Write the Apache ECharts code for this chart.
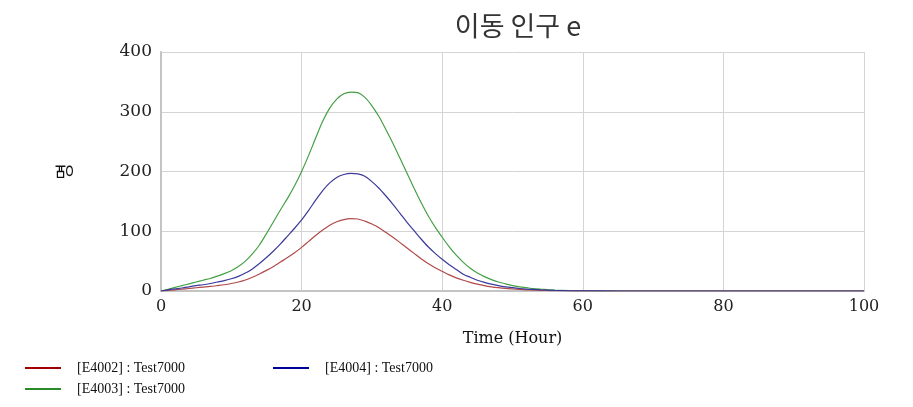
<!DOCTYPE html>
<html>
<head>
<meta charset="utf-8">
<script src="https://cdn.jsdelivr.net/npm/echarts@6/dist/echarts.min.js"></script>
<style>html,body{margin:0;padding:0;background:#fff}#c{width:913px;height:407px}</style>
</head>
<body>
<div id="c"></div>
<script>
var times = [0,1,2,3,4,5,6,7,8,9,10,11,12,13,14,15,16,17,18,19,20,21,22,23,24,25,26,27,28,29,30,31,32,33,34,35,36,37,38,39,40,41,42,43,44,45,46,47,48,49,50,51,52,53,54,55,56,58,60,65,70,80,90,100];
var e4002 = [0,1,2,3,4.2,5.4,6.5,7.6,9,10.5,12.5,15,18.5,23,28.5,34.5,41,48.5,56,64,73,83,93,102,110,116,119.5,121,120.5,117,112,106,98,90,81,72,63,54,46,39,33,27,22,18,14.5,11.5,9,7,5.5,4.3,3.4,2.6,2,1.5,1.1,0.8,0.6,0.3,0.1,0,0,0,0,0];
var e4003 = [0,3,6,9,12,15,18,21,25,29,34,41,50,62,77,96,116,136,155,176,200,227,256,284,306,321,330,333,332,324,310,292,270,247,222,197,172,148,126,107,90,74,60,48,38,30,24,19,15,12,9,7,5.5,4,3,2.2,1.6,0.8,0.4,0,0,0,0,0];
var e4004 = [0,2,3.5,5,7,9,10.5,12.5,15,17.5,20.5,24.5,30,37,46,56,67,79,92,105,119,135,152,168,181,190,195,197,196,192,183,172,159,145,130,115,101,87,74,63,53,44,36,28,23,18,14.5,11.5,9,7,5.5,4.2,3.2,2.5,1.9,1.4,1,0.5,0.2,0,0,0,0,0];
var xTicks = [0,20,40,60,80,100];
var yTicks = [0,100,200,300,400];
var names = ['[E4002] : Test7000','[E4003] : Test7000','[E4004] : Test7000'];

function pairs(v){ return times.map(function(t,i){ return [t, v[i]]; }); }

var serif = '"Liberation Serif", "DejaVu Serif", serif';
var numFont = '"DejaVu Serif", serif';
var legendText = {fontFamily: serif, fontSize: 14, color: '#111', padding: [0,0,0,11]};

var chart = echarts.init(document.getElementById('c'), null, {renderer: 'canvas'});
chart.setOption({
  animation: false,
  backgroundColor: '#fff',
  title: {
    text: '이동 인구 e',
    left: 513, top: 7, textAlign: 'center',
    textStyle: {fontFamily: '"Noto Sans CJK KR", sans-serif', fontSize: 27, fontWeight: 'normal', color: '#333'}
  },
  legend: [
    {left: 25, top: 361, padding: 0, itemWidth: 36, itemHeight: 2, icon: 'rect', textStyle: legendText,
     data: [{name: names[0], itemStyle: {color: '#a00000'}}]},
    {left: 273, top: 361, padding: 0, itemWidth: 36, itemHeight: 2, icon: 'rect', textStyle: legendText,
     data: [{name: names[2], itemStyle: {color: '#00009a'}}]},
    {left: 25, top: 382, padding: 0, itemWidth: 36, itemHeight: 2, icon: 'rect', textStyle: legendText,
     data: [{name: names[1], itemStyle: {color: '#2a8a2a'}}]}
  ],
  grid: {left: 161, right: 49, top: 52, bottom: 116},
  xAxis: {
    type: 'value', min: 0, max: 100, interval: 20,
    name: 'Time (Hour)', nameLocation: 'middle', nameGap: 40,
    nameTextStyle: {fontFamily: numFont, fontSize: 16, color: '#111'},
    axisLine: {show: true, lineStyle: {color: '#c4c4c4', width: 2}},
    axisTick: {show: false},
    axisLabel: {margin: 8, fontFamily: numFont, fontSize: 16, color: '#222',
      formatter: function(v){ return xTicks.indexOf(v) >= 0 ? String(v) : ''; }},
    splitLine: {show: true, lineStyle: {color: '#d4d4d4', width: 1}}
  },
  yAxis: {
    type: 'value', min: 0, max: 400, interval: 100,
    name: '명', nameLocation: 'middle', nameGap: 88, nameRotate: 90,
    nameTextStyle: {fontFamily: '"Noto Sans CJK KR", sans-serif', fontSize: 18, color: '#111'},
    axisLine: {show: true, lineStyle: {color: '#c4c4c4', width: 2}},
    axisTick: {show: false},
    axisLabel: {margin: 9, fontFamily: numFont, fontSize: 17, color: '#222',
      formatter: function(v){ return yTicks.indexOf(v) >= 0 ? String(v) : ''; }},
    splitLine: {show: true, lineStyle: {color: '#d4d4d4', width: 1}}
  },
  series: [
    {name: names[0], type: 'line', data: pairs(e4002), symbol: 'none', smooth: 0.3,
     lineStyle: {color: '#b04a4a', width: 1.2}, itemStyle: {color: '#b04a4a'}, z: 3},
    {name: names[1], type: 'line', data: pairs(e4003), symbol: 'none', smooth: 0.3,
     lineStyle: {color: '#44a044', width: 1.2}, itemStyle: {color: '#44a044'}, z: 2},
    {name: names[2], type: 'line', data: pairs(e4004), symbol: 'none', smooth: 0.3,
     lineStyle: {color: '#3a3a9a', width: 1.2}, itemStyle: {color: '#3a3a9a'}, z: 4}
  ]
});
</script>
</body>
</html>
